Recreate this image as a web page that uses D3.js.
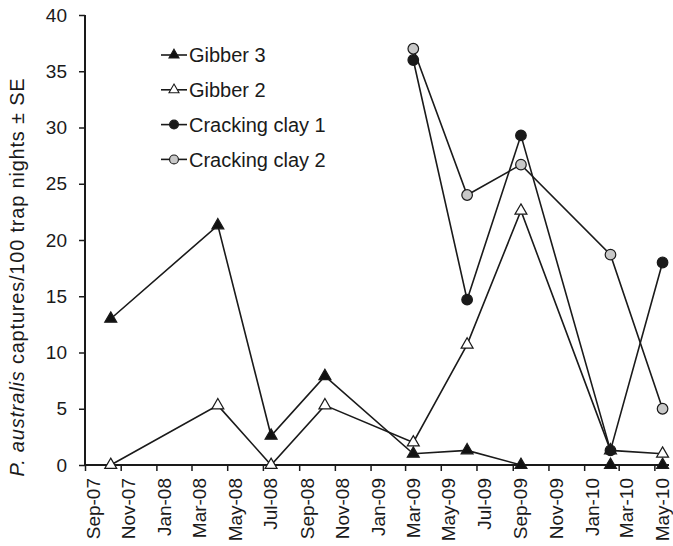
<!DOCTYPE html>
<html>
<head>
<meta charset="utf-8">
<script src="https://cdn.jsdelivr.net/npm/d3@7"></script>
<style>
  html, body { margin: 0; padding: 0; background: #fff; }
  svg { display: block; }
  text { font-family: "Liberation Sans", Arial, Helvetica, sans-serif; fill: #1a1a1a; }
</style>
</head>
<body>
<svg id="chart" width="673" height="546"></svg>
<script>
// Survey dates (mid-month trapping sessions)
const gibberDates = ["2007-10-15", "2008-04-15", "2008-07-15", "2008-10-15", "2009-03-15",
                     "2009-06-15", "2009-09-15", "2010-02-15", "2010-05-15"];
const clayDates = ["2009-03-15", "2009-06-15", "2009-09-15", "2010-02-15", "2010-05-15"];

// Captures per 100 trap nights
const gibber3 = [13.0, 21.3, 2.6, 7.9, 1.0, 1.3, 0, 0, 0];
const gibber2 = [0, 5.3, 0, 5.3, 2.0, 10.7, 22.6, 1.3, 1.0];
const crackingClay1 = [36.0, 14.7, 29.3, 1.3, 18.0];
const crackingClay2 = [37.0, 24.0, 26.7, 18.7, 5.0];

// Axis ticks
const yTicks = [0, 5, 10, 15, 20, 25, 30, 35, 40];
const xTickLabels = ["Sep-07", "Nov-07", "Jan-08", "Mar-08", "May-08", "Jul-08", "Sep-08", "Nov-08",
                     "Jan-09", "Mar-09", "May-09", "Jul-09", "Sep-09", "Nov-09", "Jan-10", "Mar-10", "May-10"];

const parse = d3.timeParse("%Y-%m-%d");
const parseTick = d3.timeParse("%b-%y");

const svg = d3.select("#chart");

const x = d3.scaleTime()
  .domain([parse("2007-09-01"), parse("2010-05-26")])
  .range([85, 669]);
const y = d3.scaleLinear().domain([0, 40]).range([465, 15]);

// Y axis
const yAxis = svg.append("g").attr("transform", "translate(85,0)")
  .call(d3.axisLeft(y).tickValues(yTicks).tickSize(6).tickPadding(12).tickFormat(d3.format("d")));
yAxis.select(".domain").attr("stroke", "#1a1a1a").attr("stroke-width", 2).attr("d", "M0,15V465");
yAxis.selectAll(".tick line").attr("stroke", "#1a1a1a").attr("stroke-width", 1.5);
yAxis.selectAll(".tick text").attr("font-size", 19).attr("fill", "#1a1a1a")
  .attr("font-family", "Liberation Sans, Arial, sans-serif");

// X axis
const xTickDates = xTickLabels.map(s => parseTick(s));
const xAxis = svg.append("g").attr("transform", "translate(0,465)")
  .call(d3.axisBottom(x).tickValues(xTickDates).tickSize(6).tickFormat((d, i) => xTickLabels[i]));
xAxis.select(".domain").attr("stroke", "#1a1a1a").attr("stroke-width", 2).attr("d", "M85,0H669");
xAxis.selectAll(".tick line").attr("stroke", "#1a1a1a").attr("stroke-width", 1.5);
xAxis.selectAll(".tick text")
  .attr("font-size", 19).attr("fill", "#1a1a1a")
  .attr("font-family", "Liberation Sans, Arial, sans-serif")
  .attr("text-anchor", "end")
  .attr("dy", null)
  .attr("y", 0)
  .attr("transform", "translate(14,13) rotate(-90)");

// Y axis title
const title = svg.append("text")
  .attr("transform", "translate(24,277) rotate(-90)")
  .attr("text-anchor", "middle")
  .attr("font-size", 20)
  .attr("letter-spacing", 0.8);
title.append("tspan").attr("font-style", "italic").text("P. australis");
title.append("tspan").text(" captures/100 trap nights ± SE");

// Series
const series = [
  { name: "Gibber 3", dates: gibberDates, values: gibber3, shape: d3.symbolTriangle, fill: "#111", size: 62 },
  { name: "Gibber 2", dates: gibberDates, values: gibber2, shape: d3.symbolTriangle, fill: "#fff", size: 62 },
  { name: "Cracking clay 1", dates: clayDates, values: crackingClay1, shape: d3.symbolCircle, fill: "#1a1a1a", size: 88 },
  { name: "Cracking clay 2", dates: clayDates, values: crackingClay2, shape: d3.symbolCircle, fill: "#c8c8c8", size: 88 }
];

const line = d3.line().x(d => x(d.date)).y(d => y(d.value));

series.forEach(s => {
  const pts = s.values.map((v, i) => ({ date: parse(s.dates[i]), value: v }));
  const g = svg.append("g");
  g.append("path").datum(pts)
    .attr("d", line)
    .attr("fill", "none")
    .attr("stroke", "#1a1a1a")
    .attr("stroke-width", 1.6);
  g.selectAll("path.mark").data(pts).enter().append("path")
    .attr("class", "mark")
    .attr("d", d3.symbol().type(s.shape).size(s.size))
    .attr("transform", d => `translate(${x(d.date)},${y(d.value)})`)
    .attr("fill", s.fill)
    .attr("stroke", "#1a1a1a")
    .attr("stroke-width", 1.2);
});

// Legend
const legend = svg.append("g");
series.forEach((s, i) => {
  const cy = 55 + i * 34.8;
  legend.append("line")
    .attr("x1", 161).attr("x2", 187).attr("y1", cy).attr("y2", cy)
    .attr("stroke", "#1a1a1a").attr("stroke-width", 1.6);
  legend.append("path")
    .attr("d", d3.symbol().type(s.shape).size(s.size * 0.7))
    .attr("transform", `translate(174,${cy})`)
    .attr("fill", s.fill).attr("stroke", "#1a1a1a").attr("stroke-width", 1.1);
  legend.append("text")
    .attr("x", 189).attr("y", cy).attr("dy", "0.36em")
    .attr("font-size", 20)
    .text(s.name);
});
</script>
</body>
</html>
